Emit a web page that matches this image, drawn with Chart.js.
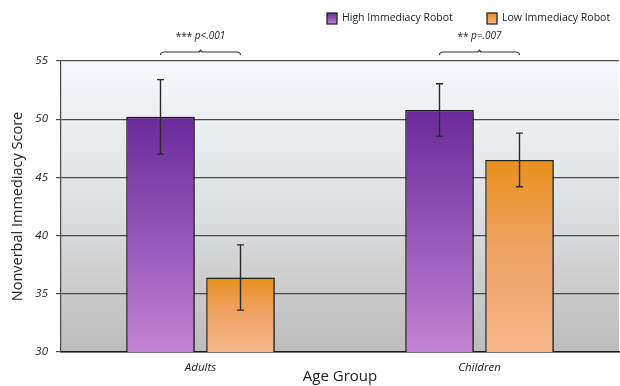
<!DOCTYPE html>
<html>
<head>
<meta charset="utf-8">
<script src="https://cdn.jsdelivr.net/npm/chart.js@4.4.1/dist/chart.umd.min.js"></script>
<style>
  html, body { margin: 0; padding: 0; background: #ffffff; }
  #wrap { width: 620px; height: 386px; }
</style>
</head>
<body>
<div id="wrap"><canvas id="c" width="620" height="386"></canvas></div>
<script>
// Mean nonverbal immediacy scores by age group and robot condition
const categories = ['Adults', 'Children'];
const seriesNames = ['High Immediacy Robot', 'Low Immediacy Robot'];
const highValues = [50.2, 50.8];
const lowValues = [36.4, 46.5];
const highErrors = [3.2, 2.25];
const lowErrors = [2.8, 2.3];
const sigStars = ['***', '**'];
const sigText = ['p<.001', 'p=.007'];
const yTicks = [30, 35, 40, 45, 50, 55];

const FONT = "'Open Sans', 'DejaVu Sans', sans-serif";

const palettes = [
  ['#6a2a9b', '#8e52b4', '#c283d2'],
  ['#e8901c', '#eea263', '#f5b68b']
];

function barGradient(chart, topPx, bottomPx, stops) {
  const g = chart.ctx.createLinearGradient(0, topPx, 0, bottomPx);
  g.addColorStop(0, stops[0]);
  g.addColorStop(0.45, stops[1]);
  g.addColorStop(1, stops[2]);
  return g;
}

function fillFor(idx) {
  return (ctx) => {
    const chart = ctx.chart;
    const area = chart.chartArea;
    if (!area || ctx.type !== 'data' || !chart.scales.y) return palettes[idx][1];
    const top = chart.scales.y.getPixelForValue(ctx.raw);
    return barGradient(chart, top, area.bottom, palettes[idx]);
  };
}

// Plot area background gradient
const backdrop = {
  id: 'backdrop',
  beforeDraw(chart) {
    const { ctx, chartArea: a } = chart;
    const g = ctx.createLinearGradient(0, a.top, 0, a.bottom);
    g.addColorStop(0, '#f6f9fd');
    g.addColorStop(0.5, '#dedfe1');
    g.addColorStop(1, '#bcbcbc');
    ctx.save();
    ctx.fillStyle = g;
    ctx.fillRect(a.left, a.top, a.right - a.left, a.bottom - a.top);
    ctx.restore();
  }
};

// Soft drop shadow behind the bars
const barShadow = {
  id: 'barShadow',
  beforeDatasetsDraw(chart) {
    const ctx = chart.ctx;
    ctx.save();
    ctx.shadowColor = 'rgba(0,0,0,0.35)';
    ctx.shadowBlur = 4;
    ctx.shadowOffsetX = 3;
    ctx.shadowOffsetY = 1;
  },
  afterDatasetsDraw(chart) {
    chart.ctx.restore();
  }
};

// Error bars (mean ± error) for each bar
const errorBars = {
  id: 'errorBars',
  afterDatasetsDraw(chart) {
    const ctx = chart.ctx;
    const y = chart.scales.y;
    const errs = [highErrors, lowErrors];
    ctx.save();
    ctx.strokeStyle = '#2a2a2a';
    ctx.lineWidth = 1.4;
    chart.data.datasets.forEach((ds, di) => {
      const meta = chart.getDatasetMeta(di);
      meta.data.forEach((bar, i) => {
        const v = ds.data[i];
        const e = errs[di][i];
        const yt = y.getPixelForValue(v + e);
        const yb = y.getPixelForValue(v - e);
        const x = bar.x;
        ctx.beginPath();
        ctx.moveTo(x, yt); ctx.lineTo(x, yb);
        ctx.moveTo(x - 3.5, yt); ctx.lineTo(x + 3.5, yt);
        ctx.moveTo(x - 3.5, yb); ctx.lineTo(x + 3.5, yb);
        ctx.stroke();
      });
    });
    ctx.restore();
  }
};

// Significance brackets and labels above each group
const significance = {
  id: 'significance',
  afterDraw(chart) {
    const ctx = chart.ctx;
    const xs = chart.scales.x;
    ctx.save();
    categories.forEach((c, i) => {
      const cx = xs.getPixelForValue(i);
      const half = 40;
      const yLine = 52;
      ctx.strokeStyle = '#333333';
      ctx.lineWidth = 1.2;
      ctx.beginPath();
      ctx.moveTo(cx - half, yLine + 3);
      ctx.quadraticCurveTo(cx - half, yLine, cx - half + 4, yLine);
      ctx.lineTo(cx - 3, yLine);
      ctx.quadraticCurveTo(cx, yLine, cx, yLine - 2.5);
      ctx.quadraticCurveTo(cx, yLine, cx + 3, yLine);
      ctx.lineTo(cx + half - 4, yLine);
      ctx.quadraticCurveTo(cx + half, yLine, cx + half, yLine + 3);
      ctx.stroke();

      const starFont = `10px ${FONT}`;
      const pFont = `italic 10px ${FONT}`;
      const s1 = sigStars[i] + ' ';
      ctx.font = starFont;
      const w1 = ctx.measureText(s1).width;
      ctx.font = pFont;
      const w2 = ctx.measureText(sigText[i]).width;
      const x0 = cx - (w1 + w2) / 2;
      ctx.fillStyle = '#222222';
      ctx.textBaseline = 'middle';
      ctx.textAlign = 'left';
      ctx.font = starFont;
      ctx.fillText(s1, x0, 37);
      ctx.font = pFont;
      ctx.fillText(sigText[i], x0 + w1, 36);
    });
    ctx.restore();
  }
};

// Legend in the top-right corner
const topLegend = {
  id: 'topLegend',
  afterDraw(chart) {
    const ctx = chart.ctx;
    const positions = [327, 487];
    ctx.save();
    seriesNames.forEach((name, i) => {
      const x = positions[i];
      const yTop = 13;
      const g = ctx.createLinearGradient(0, yTop, 0, yTop + 11);
      g.addColorStop(0, palettes[i][0]);
      g.addColorStop(1, palettes[i][2]);
      ctx.fillStyle = g;
      ctx.fillRect(x, yTop, 10, 11);
      ctx.strokeStyle = '#1a1a1a';
      ctx.lineWidth = 1.2;
      ctx.strokeRect(x, yTop, 10, 11);
      ctx.fillStyle = '#1a1a1a';
      ctx.font = `10.5px ${FONT}`;
      ctx.textBaseline = 'middle';
      ctx.textAlign = 'left';
      ctx.fillText(name, x + 15, yTop + 5.5);
    });
    ctx.restore();
  }
};

new Chart(document.getElementById('c'), {
  type: 'bar',
  data: {
    labels: categories,
    datasets: [
      {
        label: seriesNames[0],
        data: highValues,
        backgroundColor: fillFor(0),
        borderColor: '#1c1c1c',
        borderWidth: 1.5,
        borderSkipped: false,
        categoryPercentage: 0.5735,
        barPercentage: 0.8575
      },
      {
        label: seriesNames[1],
        data: lowValues,
        backgroundColor: fillFor(1),
        borderColor: '#2a2420',
        borderWidth: 1.5,
        borderSkipped: false,
        categoryPercentage: 0.5735,
        barPercentage: 0.8575
      }
    ]
  },
  options: {
    responsive: false,
    animation: false,
    events: [],
    layout: { padding: { top: 61, right: 1, bottom: 0, left: 0 } },
    plugins: {
      legend: { display: false },
      tooltip: { enabled: false }
    },
    scales: {
      x: {
        grid: { display: false, drawTicks: false },
        border: { display: true, color: '#1a1a1a', width: 1.6 },
        ticks: {
          color: '#222222',
          padding: 9,
          font: { family: FONT, size: 11.5, style: 'italic' }
        },
        title: {
          display: true,
          text: 'Age Group',
          color: '#222222',
          padding: { top: 0, bottom: 0 },
          font: { family: FONT, size: 15 }
        },
        afterFit(s) { s.height = 34; }
      },
      y: {
        min: 30,
        max: 55,
        afterBuildTicks(s) { s.ticks = yTicks.map(v => ({ value: v })); },
        grid: {
          color: '#4a4a4a',
          lineWidth: 1.2,
          tickLength: 5,
          drawTicks: true
        },
        border: { display: true, color: '#4a4a4a', width: 1.2 },
        ticks: {
          color: '#222222',
          padding: 8,
          font: { family: FONT, size: 11.5, style: 'italic' }
        },
        title: {
          display: true,
          text: 'Nonverbal Immediacy Score',
          color: '#222222',
          padding: { top: 9, bottom: 4 },
          font: { family: FONT, size: 14.5 }
        },
        afterFit(s) { s.width = 61; }
      }
    }
  },
  plugins: [backdrop, barShadow, errorBars, significance, topLegend]
});
</script>
</body>
</html>
